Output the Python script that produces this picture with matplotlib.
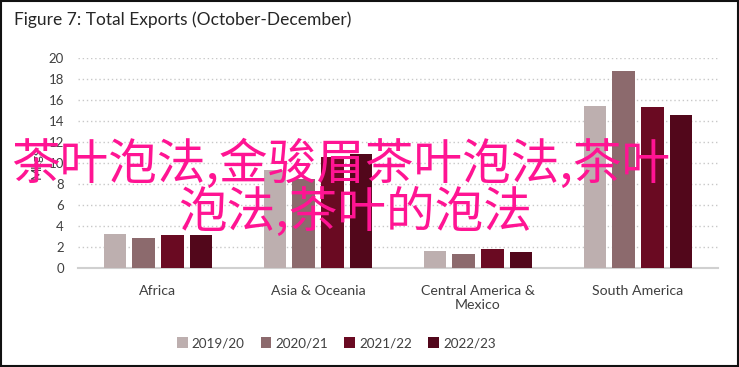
import matplotlib
matplotlib.use("Agg")
import matplotlib.pyplot as plt
from matplotlib.patches import Rectangle
import numpy as np

categories = ["Africa", "Asia & Oceania", "Central America &\nMexico", "South America"]
seasons = ["2019/20", "2020/21", "2021/22", "2022/23"]
v2019 = [3.2, 9.3, 1.6, 15.4]
v2020 = [2.9, 8.5, 1.3, 18.8]
v2021 = [3.1, 10.6, 1.8, 15.3]
v2022 = [3.1, 10.9, 1.5, 14.6]
series = [v2019, v2020, v2021, v2022]
colors = ["#bdafaf", "#8c6a6d", "#6a0a22", "#52071b"]
yticks = [0, 2, 4, 6, 8, 10, 12, 14, 16, 18, 20]

plt.rcParams['font.family'] = ['Lato', 'DejaVu Sans']

fig = plt.figure(figsize=(7.39, 3.67), dpi=100)
ax = fig.add_axes([0.1055, 0.2698, 0.866, 0.5722])

x = np.arange(len(categories))
width = 0.14
step = 0.18
offsets = [-1.5 * step, -0.5 * step, 0.5 * step, 1.5 * step]
for vals, off, col, lab in zip(series, offsets, colors, seasons):
    ax.bar(x + off, vals, width, color=col, label=lab, zorder=3)

ax.set_xlim(-0.5, 3.5)
ax.set_ylim(0, 20)
ax.set_yticks(yticks)
ax.set_xticks(x)
ax.set_xticklabels(categories, fontsize=10.2, color="#404040", linespacing=1.25)
ax.tick_params(axis='y', length=0, labelsize=9.5, labelcolor="#404040", pad=10)
ax.tick_params(axis='x', length=0, pad=12)
ax.yaxis.grid(True, linestyle=(0, (1, 2)), color="#c8c8c8", linewidth=1, zorder=0)
for s in ['top', 'right', 'left']:
    ax.spines[s].set_visible(False)
ax.spines['bottom'].set_color("#d0d0d0")
ax.spines['bottom'].set_linewidth(1.5)
ax.set_axisbelow(True)
ax.set_ylabel("Mkgs", fontsize=9.5, color="#404040", labelpad=4)

leg = fig.legend(loc='center', bbox_to_anchor=(0.455, 0.065), ncol=4, frameon=False,
                 fontsize=9.7, handlelength=0.8, handleheight=0.8, handletextpad=0.3,
                 columnspacing=1.2)
for t in leg.get_texts():
    t.set_color("#404040")

fig.text(14 / 739, 1 - 20 / 367, "Figure 7: Total Exports (October-December)",
         fontsize=12.5, color="#262626", ha='left', va='center')

# border
fig.patches.append(Rectangle((0.002, 0.003), 0.996, 0.994, transform=fig.transFigure,
                             fill=False, edgecolor="#111111", linewidth=1.5))

# overlay text
pink = "#ff1493"
fig.text(341 / 739, 1 - 165 / 367, "茶叶泡法,金骏眉茶叶泡法,茶叶", fontsize=35,
         color=pink, ha='center', va='center', weight='medium',
         family=['Noto Sans CJK SC', 'DejaVu Sans'])
fig.text(355 / 739, 1 - 213 / 367, "泡法,茶叶的泡法", fontsize=35,
         color=pink, ha='center', va='center', weight='medium',
         family=['Noto Sans CJK SC', 'DejaVu Sans'])

fig.savefig("out.png", dpi=100)
